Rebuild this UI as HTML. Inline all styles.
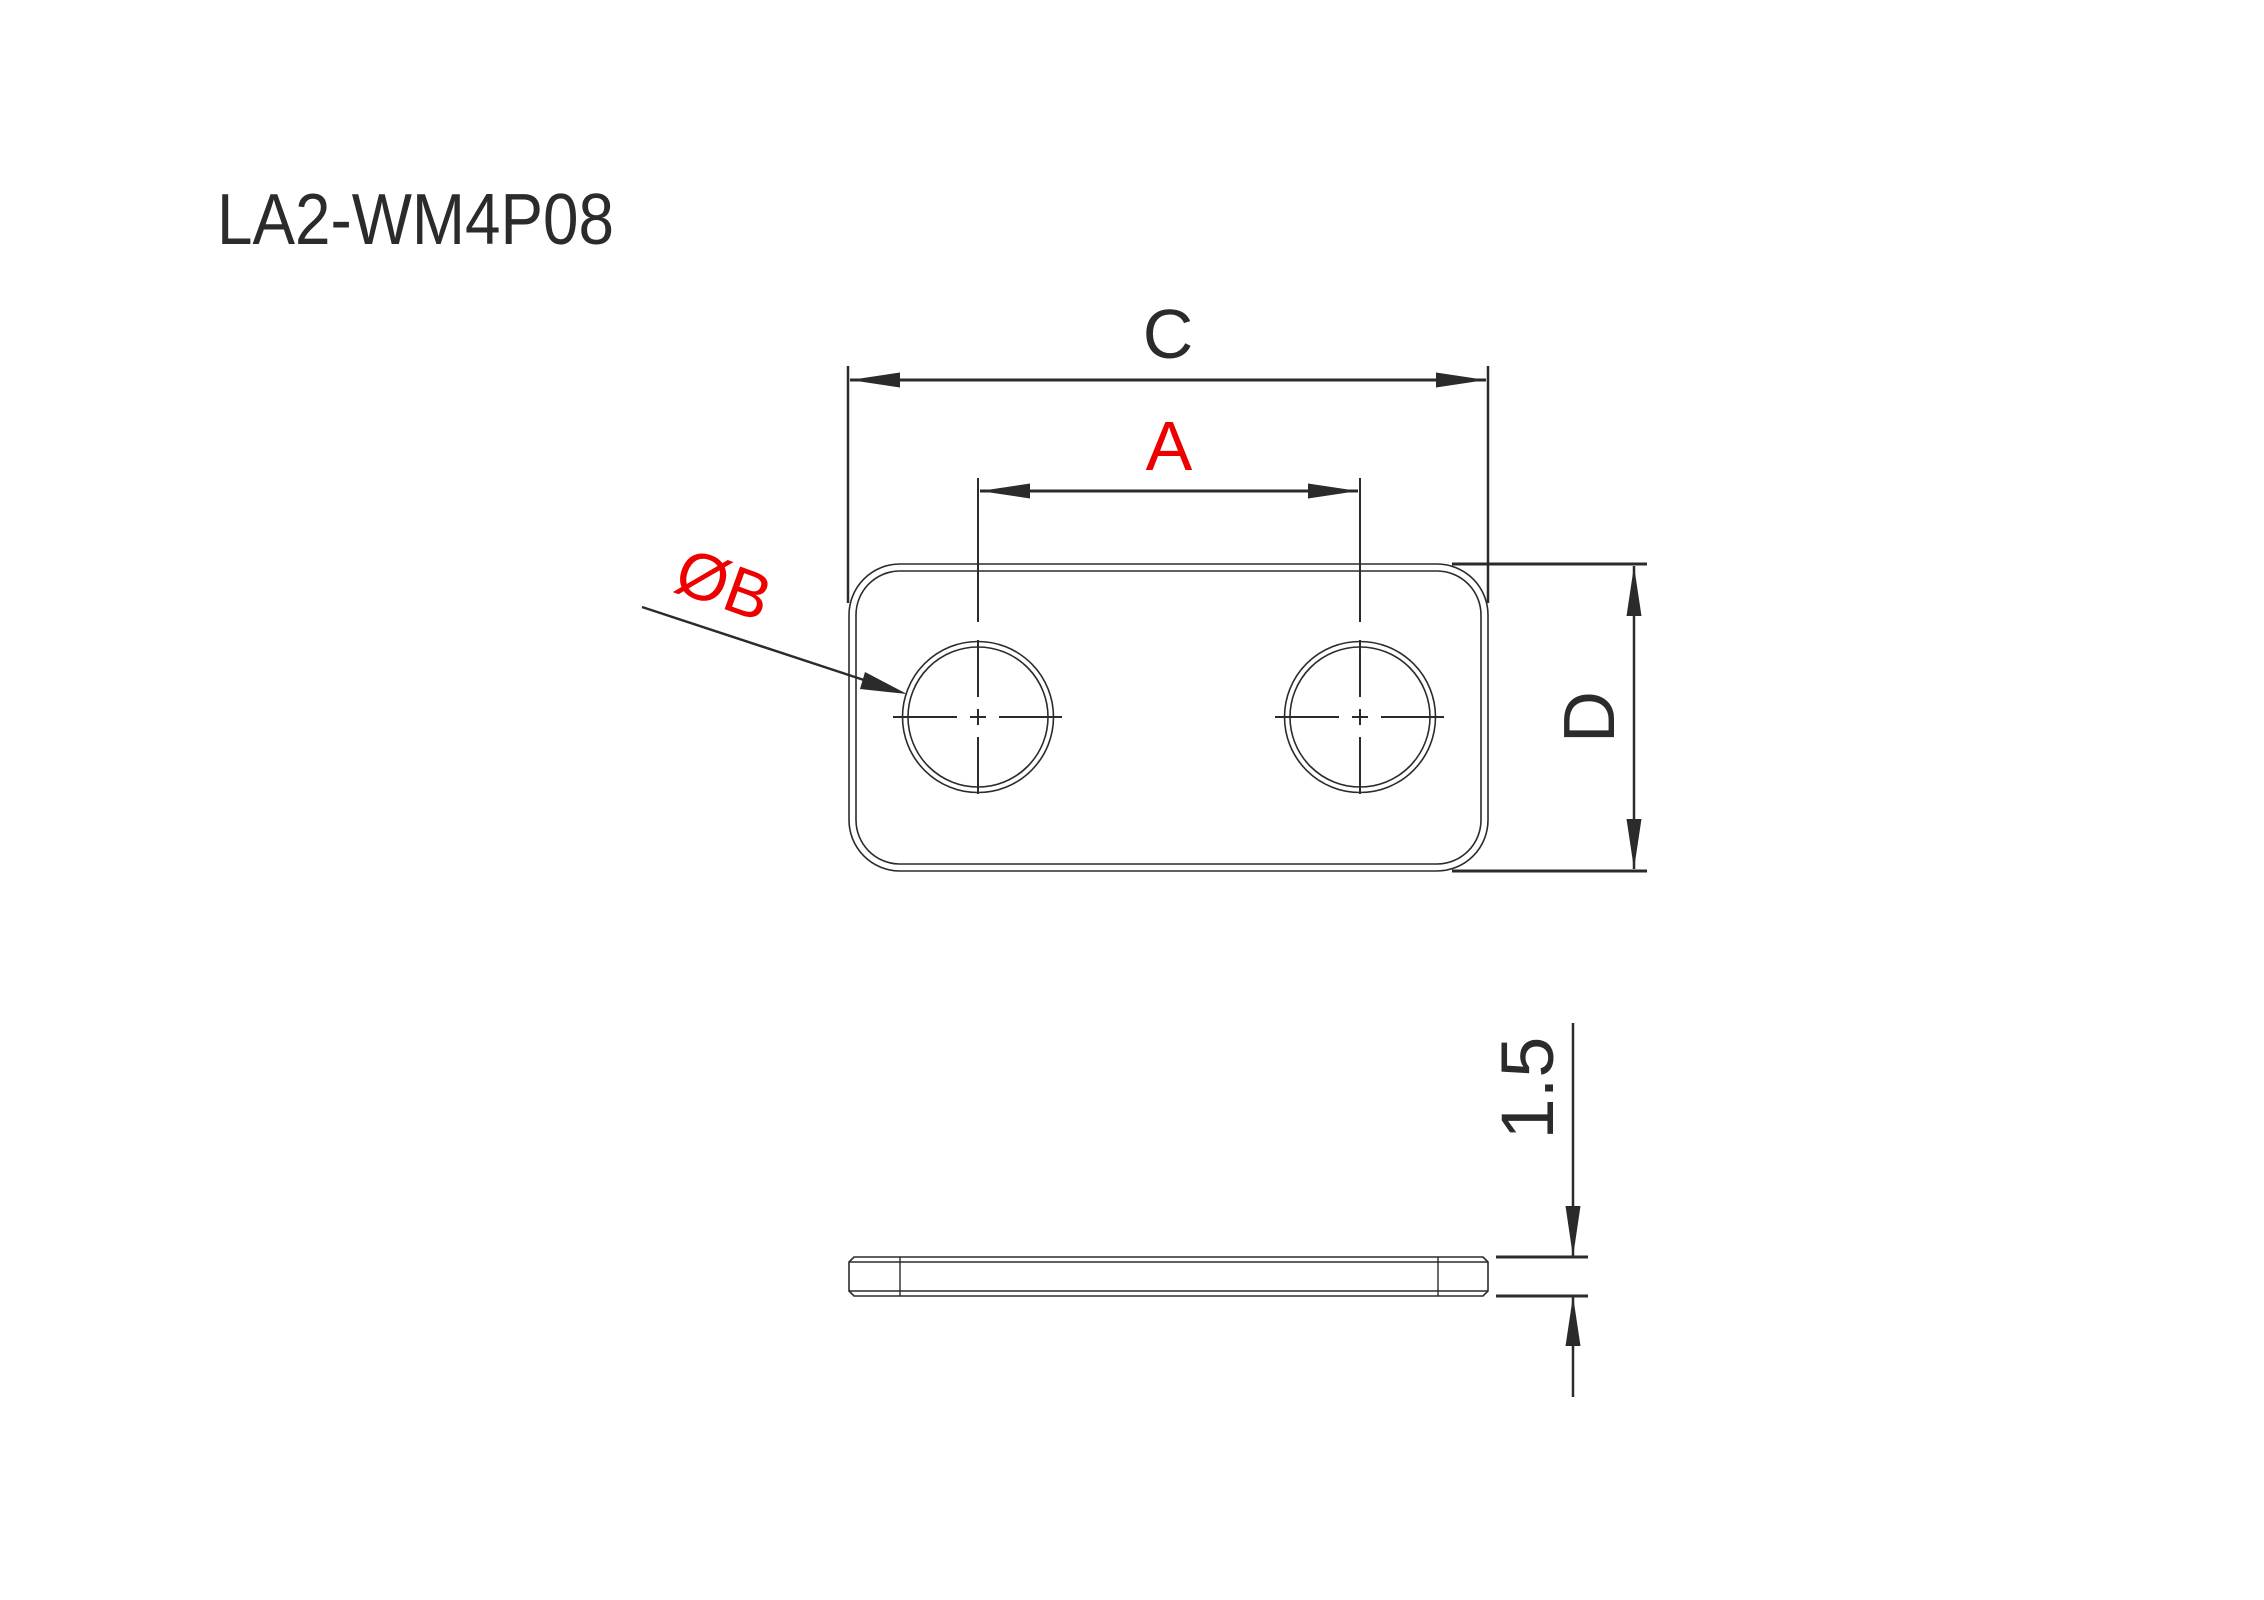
<!DOCTYPE html>
<html><head><meta charset="utf-8"><style>html,body{margin:0;padding:0;background:#fff}svg{display:block}</style></head>
<body>
<svg width="2264" height="1600" viewBox="0 0 2264 1600" xmlns="http://www.w3.org/2000/svg" font-family="Liberation Sans, sans-serif">
<g stroke="#2b2b2b" fill="none">
<!-- C dim -->
<line x1="848" y1="366" x2="848" y2="603" stroke-width="2.5"/>
<line x1="1488" y1="366" x2="1488" y2="603" stroke-width="2.5"/>
<line x1="850" y1="380" x2="1486" y2="380" stroke-width="3"/>
<!-- A dim -->
<line x1="980" y1="491" x2="1358" y2="491" stroke-width="3"/>
<!-- plate -->
<path d="M899 564 H1437 A51 51 0 0 1 1488 615 V820 A51 51 0 0 1 1437 871 H899 A51 51 0 0 1 849 820 V615 A51 51 0 0 1 899 564 Z" stroke-width="1.6"/>
<path d="M899 571 H1437 A44 44 0 0 1 1481 615 V820 A44 44 0 0 1 1437 864 H899 A44 44 0 0 1 856 820 V615 A44 44 0 0 1 899 571 Z" stroke-width="1.6"/>
<!-- holes -->
<circle cx="978" cy="717" r="75.5" stroke-width="1.6"/>
<circle cx="978" cy="717" r="70" stroke-width="1.6"/>
<circle cx="1360" cy="717" r="75.5" stroke-width="1.6"/>
<circle cx="1360" cy="717" r="70" stroke-width="1.6"/>
<g stroke-width="2">
<line x1="978" y1="478" x2="978" y2="622"/><line x1="978" y1="640" x2="978" y2="697"/><line x1="978" y1="709" x2="978" y2="725"/><line x1="978" y1="737" x2="978" y2="794"/>
<line x1="893" y1="717" x2="957" y2="717"/><line x1="970" y1="717" x2="986" y2="717"/><line x1="999" y1="717" x2="1062" y2="717"/>
<line x1="1360" y1="478" x2="1360" y2="622"/><line x1="1360" y1="640" x2="1360" y2="697"/><line x1="1360" y1="709" x2="1360" y2="725"/><line x1="1360" y1="737" x2="1360" y2="794"/>
<line x1="1275" y1="717" x2="1339" y2="717"/><line x1="1352" y1="717" x2="1368" y2="717"/><line x1="1381" y1="717" x2="1444" y2="717"/>
</g>
<!-- D dim -->
<line x1="1452" y1="564" x2="1647" y2="564" stroke-width="3"/>
<line x1="1452" y1="871" x2="1647" y2="871" stroke-width="3"/>
<line x1="1634" y1="566" x2="1634" y2="869" stroke-width="2.5"/>
<!-- leader -->
<line x1="642" y1="607" x2="870" y2="682" stroke-width="2.5"/>
<!-- side view -->
<path d="M854 1257 H1483 L1488 1262 V1291 L1483 1296 H854 L849 1291 V1262 Z" stroke-width="1.6"/>
<line x1="849" y1="1262" x2="1488" y2="1262" stroke-width="1.6"/>
<line x1="849" y1="1291" x2="1488" y2="1291" stroke-width="1.6"/>
<line x1="900" y1="1257" x2="900" y2="1296" stroke-width="1.4"/>
<line x1="1438" y1="1257" x2="1438" y2="1296" stroke-width="1.4"/>
<line x1="1496" y1="1257" x2="1588" y2="1257" stroke-width="3"/>
<line x1="1496" y1="1296" x2="1588" y2="1296" stroke-width="3"/>
<line x1="1573" y1="1023" x2="1573" y2="1257" stroke-width="2.5"/>
<line x1="1573" y1="1296" x2="1573" y2="1397" stroke-width="2.5"/>
</g>
<g fill="#2b2b2b">
<polygon points="850,380 900,372.5 900,387.5"/>
<polygon points="1486,380 1436,372.5 1436,387.5"/>
<polygon points="980,491 1030,483.5 1030,498.5"/>
<polygon points="1358,491 1308,483.5 1308,498.5"/>
<polygon points="1634,566 1626.5,616 1641.5,616"/>
<polygon points="1634,869 1626.5,819 1641.5,819"/>
<polygon points="907,694 865,672 860,689"/>
<polygon points="1573,1257 1565.5,1206 1580.5,1206"/>
<polygon points="1573,1296 1565.5,1346 1580.5,1346"/>
</g>
<text x="217" y="244" font-size="72" fill="#2b2b2b" textLength="397" lengthAdjust="spacingAndGlyphs">LA2-WM4P08</text>
<text x="1168" y="358" font-size="70" fill="#2b2b2b" text-anchor="middle">C</text>
<text x="1169" y="470" font-size="70" fill="#ee0000" text-anchor="middle">A</text>
<text transform="translate(1614,717) rotate(-90)" font-size="72" fill="#2b2b2b" text-anchor="middle">D</text>
<text transform="translate(1553,1088) rotate(-90)" font-size="74" fill="#2b2b2b" text-anchor="middle">1.5</text>
<text transform="translate(716,606) rotate(20)" font-size="66" fill="#ee0000" text-anchor="middle">ØB</text>
</svg>
</body></html>
